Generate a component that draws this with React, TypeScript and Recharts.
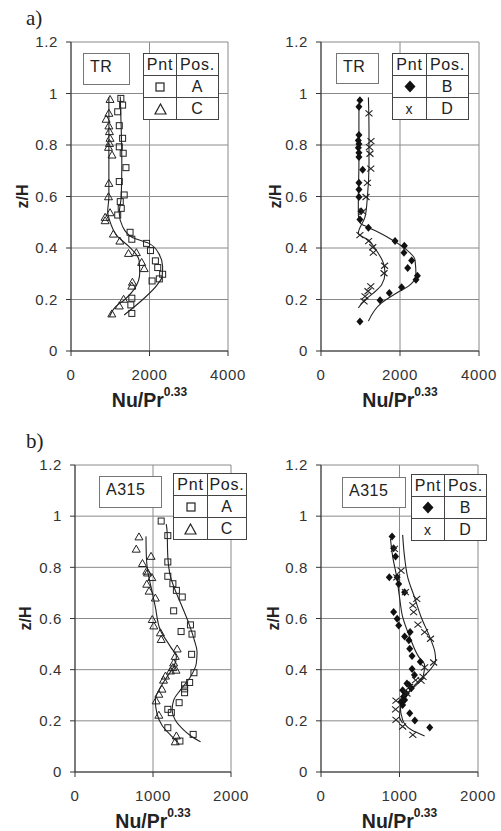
import { CartesianGrid, ComposedChart, Line, Scatter, XAxis, YAxis } from "recharts";

type Pt = { x: number; y: number };
const pts = (a: number[][]): Pt[] => a.map(([x, y]) => ({ x, y }));

const FONT = '"Liberation Sans", Arial, sans-serif';

const yTicks = [0, 0.2, 0.4, 0.6, 0.8, 1, 1.2];
const xTicksTR = [0, 2000, 4000];
const xTicksA315 = [0, 1000, 2000];

// TR, positions A and C
const trA = pts([[1270,0.981],[1315,0.955],[1190,0.929],[1230,0.875],[1315,0.826],[1230,0.793],[1330,0.768],[1400,0.712],[1230,0.658],[1355,0.606],[1255,0.58],[1280,0.554],[1190,0.528],[1505,0.461],[1550,0.434],[1925,0.418],[2025,0.39],[2150,0.35],[2210,0.324],[2335,0.298],[2250,0.28],[2065,0.272],[1550,0.205],[1525,0.179],[1550,0.146]]);
const trC = pts([[995,0.977],[965,0.923],[895,0.9],[965,0.874],[980,0.852],[995,0.826],[980,0.806],[955,0.791],[1045,0.761],[965,0.651],[955,0.599],[995,0.537],[870,0.519],[870,0.506],[1080,0.454],[1245,0.427],[1465,0.379],[1665,0.382],[1800,0.344],[1865,0.32],[1565,0.267],[1550,0.252],[1340,0.201],[1230,0.175],[1040,0.144]]);
const trFitA = pts([[1255,0.988],[1280,0.858],[1295,0.729],[1280,0.6],[1230,0.535],[1315,0.483],[1565,0.441],[1985,0.418],[2235,0.379],[2335,0.328],[2320,0.289],[2195,0.257],[1815,0.198],[1355,0.14]]);
const trFitC = pts([[965,0.985],[965,0.858],[965,0.729],[965,0.599],[935,0.541],[980,0.509],[1190,0.444],[1480,0.405],[1735,0.353],[1750,0.302],[1650,0.25],[1355,0.198],[1145,0.173],[980,0.133]]);

// TR, positions B and D
const trB = pts([[985,0.974],[960,0.949],[960,0.839],[945,0.817],[960,0.804],[945,0.789],[960,0.77],[960,0.753],[1055,0.704],[960,0.653],[960,0.627],[960,0.598],[1015,0.543],[985,0.511],[1200,0.479],[1875,0.427],[2110,0.409],[2100,0.382],[2295,0.351],[2195,0.322],[2440,0.292],[2405,0.277],[2040,0.248],[1730,0.225],[1495,0.197],[985,0.115]]);
const trD = pts([[1215,0.923],[1265,0.815],[1225,0.792],[1240,0.766],[1260,0.708],[1175,0.653],[1140,0.598],[1055,0.541],[985,0.45],[1205,0.427],[1310,0.403],[1325,0.382],[1610,0.331],[1595,0.302],[1260,0.251],[1190,0.232],[1115,0.212],[1090,0.193]]);
const trFitB = pts([[985,0.978],[960,0.92],[960,0.727],[945,0.598],[945,0.528],[1005,0.495],[1200,0.48],[1665,0.444],[2000,0.412],[2170,0.393],[2380,0.354],[2405,0.29],[2255,0.257],[1915,0.225],[1535,0.187],[1200,0.116]]);
const trFitD = pts([[1200,0.985],[1215,0.856],[1215,0.727],[1175,0.598],[1115,0.521],[945,0.457],[1200,0.431],[1365,0.399],[1580,0.341],[1620,0.302],[1535,0.257],[1325,0.225],[1115,0.199],[945,0.167]]);

// A315, positions A and C
const abA = pts([[1105,0.981],[1190,0.924],[1190,0.821],[1190,0.765],[1255,0.736],[1300,0.71],[1375,0.684],[1265,0.63],[1480,0.575],[1360,0.549],[1500,0.539],[1495,0.46],[1525,0.388],[1470,0.35],[1405,0.34],[1405,0.325],[1405,0.31],[1335,0.271],[1190,0.245],[1235,0.232],[1190,0.173],[1515,0.147],[1345,0.121]]);
const abC = pts([[820,0.919],[785,0.871],[975,0.843],[865,0.815],[920,0.785],[930,0.778],[985,0.76],[920,0.734],[950,0.707],[1030,0.68],[990,0.596],[1010,0.571],[1095,0.544],[1105,0.518],[1310,0.481],[1285,0.452],[1265,0.426],[1255,0.408],[1295,0.398],[1225,0.395],[1160,0.375],[1135,0.359],[1115,0.324],[1075,0.304],[1040,0.278],[1075,0.222],[1300,0.141],[1285,0.118]]);
const abFitA = pts([[1170,0.969],[1180,0.943],[1190,0.841],[1225,0.763],[1285,0.71],[1375,0.645],[1460,0.58],[1530,0.515],[1565,0.47],[1555,0.424],[1480,0.372],[1350,0.32],[1265,0.281],[1245,0.242],[1285,0.203],[1395,0.164],[1500,0.138],[1610,0.118]]);
const abFitC = pts([[910,0.921],[915,0.841],[930,0.789],[985,0.71],[1030,0.645],[1095,0.554],[1225,0.489],[1300,0.45],[1265,0.411],[1180,0.372],[1075,0.32],[1030,0.281],[1050,0.229],[1115,0.183],[1225,0.144],[1310,0.118]]);

// A315, positions B and D
const abB = pts([[905,0.921],[925,0.875],[950,0.842],[870,0.761],[970,0.761],[990,0.735],[1065,0.703],[925,0.625],[970,0.599],[990,0.573],[1065,0.53],[1135,0.547],[1120,0.515],[1130,0.482],[1160,0.453],[1265,0.431],[1160,0.403],[1190,0.379],[1095,0.346],[1120,0.34],[1150,0.327],[1040,0.32],[1085,0.307],[1050,0.294],[1065,0.281],[1020,0.275],[1040,0.262],[1130,0.23],[1195,0.201],[1385,0.174]]);
const abD = pts([[935,0.872],[1020,0.787],[965,0.761],[1075,0.703],[1220,0.677],[1170,0.651],[1180,0.625],[1235,0.576],[1320,0.547],[1395,0.521],[1435,0.428],[1320,0.409],[1300,0.372],[1275,0.357],[1205,0.359],[1130,0.333],[1095,0.307],[955,0.279],[950,0.245],[955,0.204],[1040,0.178],[1170,0.145]]);
const abFitB = pts([[885,0.911],[915,0.839],[965,0.761],[1000,0.684],[1040,0.606],[1130,0.528],[1245,0.45],[1320,0.418],[1300,0.372],[1170,0.327],[1065,0.294],[1010,0.256],[1040,0.204],[1150,0.165],[1320,0.141]]);
const abFitD = pts([[1040,0.927],[1065,0.839],[1105,0.761],[1190,0.684],[1275,0.606],[1385,0.528],[1450,0.47],[1460,0.437],[1385,0.398],[1235,0.353],[1105,0.307],[1020,0.256],[1000,0.217],[1040,0.191]]);

const INK = "#222";

const Square = (p: any) => (
  <rect x={p.cx - 3} y={p.cy - 3} width={6} height={6} fill="none" stroke={INK} strokeWidth={1} />
);
const Triangle = (p: any) => (
  <path d={`M${p.cx},${p.cy - 4}L${p.cx + 4},${p.cy + 3}L${p.cx - 4},${p.cy + 3}Z`} fill="none" stroke={INK} strokeWidth={1} />
);
const Diamond = (p: any) => (
  <path d={`M${p.cx},${p.cy - 4}L${p.cx + 3.5},${p.cy}L${p.cx},${p.cy + 4}L${p.cx - 3.5},${p.cy}Z`} fill="#111" />
);
const Cross = (p: any) => (
  <path d={`M${p.cx - 3.5},${p.cy - 3}L${p.cx + 3.5},${p.cy + 3}M${p.cx + 3.5},${p.cy - 3}L${p.cx - 3.5},${p.cy + 3}`} stroke={INK} strokeWidth={1.1} fill="none" />
);

const XTitle = ({ vb }: any) => (
  <text x={vb.x + vb.width / 2} y={vb.y + 56} textAnchor="middle" fontFamily={FONT} fontWeight="bold" fontSize={19.5} fill={INK}>
    <tspan>Nu/Pr</tspan>
    <tspan dy={-11} fontSize={12}>0.33</tspan>
  </text>
);

const YTitle = ({ vb, zx }: any) => {
  const cy = vb.y + vb.height / 2;
  return (
    <text x={zx} y={cy} transform={`rotate(-90 ${zx} ${cy})`} textAnchor="middle" dominantBaseline="central" fontFamily={FONT} fontWeight="bold" fontSize={16} fill={INK}>
      z/H
    </text>
  );
};

type Series = { data: Pt[]; shape: any };

function Panel({ left, top, yw, pw, ph, xMax, xTicks, zx, fits, marks }: {
  left: number; top: number; yw: number; pw: number; ph: number; xMax: number; xTicks: number[]; zx: number; fits: Pt[][]; marks: Series[];
}) {
  const tick = { fill: "#333", fontSize: 15, fontFamily: FONT, letterSpacing: 0.6 };
  return (
    <div style={{ position: "absolute", left, top }}>
      <ComposedChart width={yw + pw + 26} height={42 + ph + 60} margin={{ top: 42, right: 26, bottom: 0, left: 0 }}>
        <CartesianGrid stroke="#8a8a8a" strokeWidth={1} />
        <XAxis type="number" dataKey="x" domain={[0, xMax]} ticks={xTicks} interval={0} allowDataOverflow height={60} tickSize={5} tickMargin={13} stroke="#333" tick={tick} label={{ content: (p: any) => <XTitle vb={p.viewBox} /> }} />
        <YAxis type="number" dataKey="y" domain={[0, 1.2]} ticks={yTicks} interval={0} allowDataOverflow width={yw} tickSize={5} tickMargin={8} stroke="#333" tick={tick} label={{ content: (p: any) => <YTitle vb={p.viewBox} zx={zx} /> }} />
        {fits.map((f, i) => (
          <Line key={"f" + i} data={f} dataKey="y" type="monotoneY" dot={false} activeDot={false} stroke={INK} strokeWidth={1.1} isAnimationActive={false} />
        ))}
        {marks.map((m, i) => (
          <Scatter key={"m" + i} data={m.data} shape={m.shape} isAnimationActive={false} />
        ))}
      </ComposedChart>
    </div>
  );
}

const cell: any = { border: "1.5px solid #444", padding: 0, textAlign: "center", verticalAlign: "middle", fontSize: 16, letterSpacing: 0.8, color: INK, lineHeight: "18px" };

const SymSquare = () => (
  <svg width={10} height={10}><rect x={1} y={1} width={8} height={8} fill="none" stroke={INK} strokeWidth={1.2} /></svg>
);
const SymTriangle = () => (
  <svg width={13} height={12}><path d="M6.5,1L12,11L1,11Z" fill="none" stroke={INK} strokeWidth={1.2} /></svg>
);
const SymDiamond = () => (
  <svg width={12} height={13}><path d="M6,0.5L11.5,6.5L6,12.5L0.5,6.5Z" fill="#111" /></svg>
);
const SymX = () => <span style={{ fontSize: 14 }}>x</span>;

function Legend({ left, top, w, c1, rows }: { left: number; top: number; w: number; c1: number; rows: [any, string][] }) {
  return (
    <table style={{ position: "absolute", left, top, width: w, height: 66, borderCollapse: "collapse", background: "#fff", fontFamily: FONT, tableLayout: "fixed" }}>
      <tbody>
        <tr style={{ height: 22 }}>
          <td style={{ ...cell, width: c1 }}>Pnt</td>
          <td style={cell}>Pos.</td>
        </tr>
        {rows.map(([S, t], i) => (
          <tr key={i} style={{ height: 22 }}>
            <td style={cell}><div style={{ display: "flex", justifyContent: "center", alignItems: "center", height: 20 }}><S /></div></td>
            <td style={cell}>{t}</td>
          </tr>
        ))}
      </tbody>
    </table>
  );
}

function Tag({ left, top, w, h, text }: { left: number; top: number; w: number; h: number; text: string }) {
  return (
    <div style={{ position: "absolute", left, top, width: w, height: h, boxSizing: "border-box", border: "1px solid #777", background: "#fff", fontFamily: FONT, fontSize: 16, color: INK, padding: "4px 0 0 6px", letterSpacing: 0.5 }}>
      {text}
    </div>
  );
}

export default function App() {
  return (
    <div style={{ position: "absolute", left: 0, top: 0, width: 501, height: 831, background: "#fff", overflow: "hidden" }}>
      <div style={{ position: "absolute", left: 26, top: 6, fontFamily: '"Liberation Serif", serif', fontSize: 21, color: INK }}>a)</div>
      <div style={{ position: "absolute", left: 26, top: 429, fontFamily: '"Liberation Serif", serif', fontSize: 21, color: INK }}>b)</div>

      <Panel left={0} top={0} yw={71} pw={157} ph={309} xMax={4000} xTicks={xTicksTR} zx={22}
        fits={[trFitA, trFitC]} marks={[{ data: trA, shape: Square }, { data: trC, shape: Triangle }]} />
      <Panel left={250} top={0} yw={71} pw={158} ph={309} xMax={4000} xTicks={xTicksTR} zx={25}
        fits={[trFitB, trFitD]} marks={[{ data: trB, shape: Diamond }, { data: trD, shape: Cross }]} />
      <Panel left={0} top={423} yw={75} pw={156} ph={307} xMax={2000} xTicks={xTicksA315} zx={25}
        fits={[abFitA, abFitC]} marks={[{ data: abA, shape: Square }, { data: abC, shape: Triangle }]} />
      <Panel left={250} top={423} yw={71} pw={157} ph={307} xMax={2000} xTicks={xTicksA315} zx={23.5}
        fits={[abFitB, abFitD]} marks={[{ data: abB, shape: Diamond }, { data: abD, shape: Cross }]} />

      <Tag left={83} top={53} w={47} h={32} text="TR" />
      <Legend left={143} top={53} w={76} c1={32} rows={[[SymSquare, "A"], [SymTriangle, "C"]]} />
      <Tag left={336} top={53} w={43} h={31} text="TR" />
      <Legend left={392} top={53} w={77} c1={33} rows={[[SymDiamond, "B"], [SymX, "D"]]} />
      <Tag left={99} top={476} w={63} h={32} text="A315" />
      <Legend left={173} top={473} w={74} c1={33} rows={[[SymSquare, "A"], [SymTriangle, "C"]]} />
      <Tag left={342} top={477} w={64} h={31} text="A315" />
      <Legend left={411} top={474} w={76} c1={32} rows={[[SymDiamond, "B"], [SymX, "D"]]} />
    </div>
  );
}
